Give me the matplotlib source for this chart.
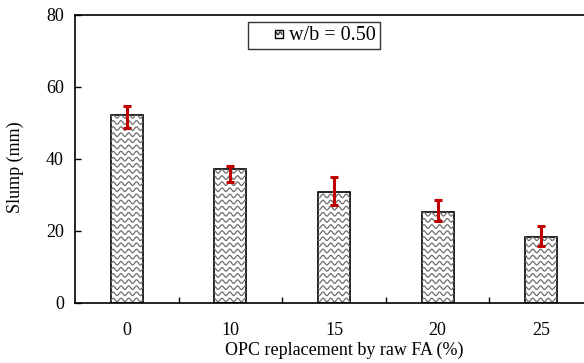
import numpy as np
import matplotlib
matplotlib.use("Agg")
import matplotlib.pyplot as plt
from matplotlib.patches import Rectangle
from matplotlib.lines import Line2D
from matplotlib.legend_handler import HandlerBase

plt.rcParams['font.family'] = ['Liberation Serif', 'DejaVu Serif']

# data
categories = ["0", "10", "15", "20", "25"]
slump = [52.2, 37.1, 30.9, 25.4, 18.3]
err_low = [3.7, 3.5, 3.8, 2.6, 2.4]
err_high = [2.6, 0.9, 4.0, 3.2, 3.2]

x = np.arange(len(categories))
bar_w = 0.31

fig = plt.figure(figsize=(5.84, 3.63), dpi=100)
ax = fig.add_axes([0.1284, 0.1653, 0.887, 0.7934])

bars = ax.bar(x, slump, width=bar_w, color="white", edgecolor="black",
              linewidth=1.2, zorder=2)

# wavy fill inside each bar (matplotlib has no wave hatch)
period = 0.075
amp = 0.5
row = 1.7
for b in bars:
    x0 = b.get_x()
    x1 = x0 + b.get_width()
    h = b.get_height()
    xs = np.linspace(x0 - 0.05, x1 + 0.05, 200)
    for yy in np.arange(row / 2, h + row, row):
        ln, = ax.plot(xs, yy + amp * np.sin(2 * np.pi * xs / period),
                      color="#6e6e6e", lw=0.9, zorder=2.5)
        ln.set_clip_path(b)

ax.errorbar(x, slump, yerr=[err_low, err_high], fmt="none", ecolor="#C00000",
            elinewidth=2.2, capsize=3, capthick=2.2, zorder=4)

ax.set_xlim(-0.5, 4.5)
ax.set_ylim(0, 80)
ax.set_yticks([0, 20, 40, 60, 80])
ax.set_xticks(x)
ax.set_xticklabels(categories)
ax.set_xticks(x[:-1] + 0.5, minor=True)
ax.tick_params(axis="x", which="major", length=0, pad=14, labelsize=13)
ax.tick_params(axis="x", which="minor", direction="in", length=4, width=1)
ax.tick_params(axis="y", direction="in", length=4, width=1, pad=8, labelsize=13)
for s in ax.spines.values():
    s.set_linewidth(1.2)

ax.set_ylabel("Slump (mm)", fontsize=13)
ax.yaxis.set_label_coords(-0.099, 0.472)
ax.set_xlabel("OPC replacement by raw FA (%)", fontsize=13)
ax.xaxis.set_label_coords(0.52, -0.133)


class WaveHandler(HandlerBase):
    def create_artists(self, legend, orig, xd, yd, width, height, fontsize, trans):
        s = 6
        cx = -xd + width - s / 2
        cy = -yd + height / 2 - 0.5
        r = Rectangle((cx - s / 2, cy - s / 2), s, s, facecolor="white",
                      edgecolor="black", lw=1.0, transform=trans)
        t = np.linspace(-s / 2 + 1.2, s / 2 - 1.2, 30)
        w1 = Line2D(cx + t, cy + 0.3 + 1.0 * np.sin(t * 2.0), color="#333333",
                    lw=1.0, transform=trans)
        return [r, w1]


leg = ax.legend([bars], ["w/b = 0.50"], handler_map={type(bars): WaveHandler()},
                loc="upper left", bbox_to_anchor=(0.334, 0.976), fontsize=14.5,
                frameon=True, fancybox=False, edgecolor="black",
                handlelength=1.55, handletextpad=0.3, borderpad=0.2,
                borderaxespad=0)
leg.get_frame().set_linewidth(1.0)

fig.savefig("out.png", dpi=100)
